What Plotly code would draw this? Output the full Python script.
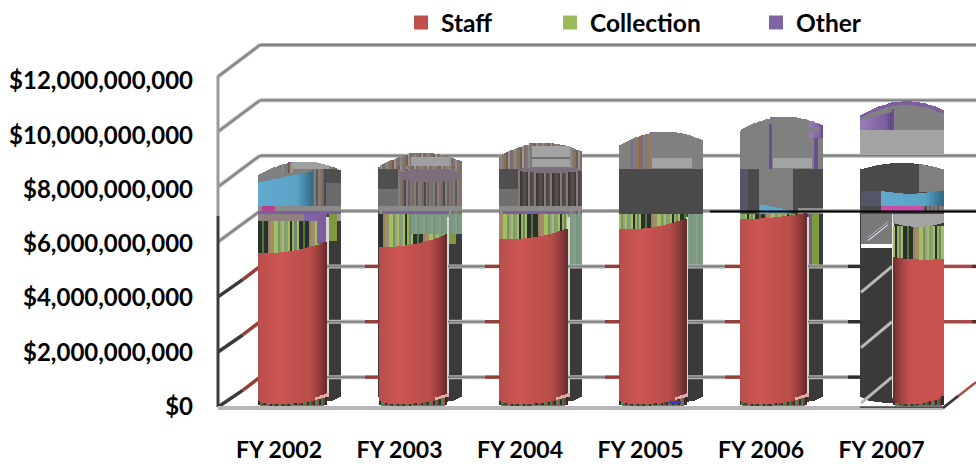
import math
import plotly.graph_objects as go

# ---- data ----
categories = ["FY 2002", "FY 2003", "FY 2004", "FY 2005", "FY 2006", "FY 2007"]
staff = [5.87e9, 6.11e9, 6.37e9, 6.73e9, 7.02e9, 5.47e9]
collection = [1.23e9, 0.99e9, 0.73e9, 0.37e9, 0.08e9, 1.18e9]
other = [1.88e9, 2.20e9, 2.57e9, 2.98e9, 3.53e9, 4.55e9]
tick_values = [0, 2e9, 4e9, 6e9, 8e9, 10e9, 12e9]
tick_labels = ["$0", "$2,000,000,000", "$4,000,000,000", "$6,000,000,000",
               "$8,000,000,000", "$10,000,000,000", "$12,000,000,000"]

# ---- geometry of the (distorted) 3-D frame ----
B = 1e9
SPACING = 120.5
CENTER0 = 299.5
W = 83 / SPACING
PY0, PXB = 406.5, 27.2
PLOT_L, PLOT_B = 200, 432


def X(px):
    return (px - CENTER0) / SPACING


def V(py):
    return (PY0 - py) / PXB * B


def back_y(v):
    return 377 - 27.75 * v / B


def front_y(v):
    return 407 - 27.6 * v / B


def lerp_hex(stops, t):
    t = max(0, min(1, t))
    for (a, ca), (b, cb) in zip(stops, stops[1:]):
        if t <= b:
            u = (t - a) / (b - a) if b > a else 0
            ch = [round(int(ca[j:j + 2], 16) * (1 - u) + int(cb[j:j + 2], 16) * u) for j in (1, 3, 5)]
            return "#%02x%02x%02x" % tuple(ch)
    return stops[-1][1]


RED = [(0, "#b84f4c"), (.3, "#cc5553"), (.75, "#b84d4a"), (.9, "#8f3b39"), (1, "#5e2b29")]
RED2 = [(0, "#6a2e2c"), (.18, "#a54441"), (.35, "#c75250"), (1, "#c9524f")]
BLUE = [(0, "#62aacd"), (.7, "#5aa3c6"), (1, "#2f6a85")]
PURP = [(0, "#9a7dba"), (.8, "#7d5fa0"), (1, "#5f4580")]
STR = ["#2e2e2e", "#2e2e2e", "#4c7a3a", "#2e2e2e", "#2e2e2e", "#8a8a5a", "#a58a6d", "#a58a6d", "#9fc25c", "#9fc25c",
       "#7c8f6a", "#9aa27a", "#a3c060", "#7f9a80", "#8aa070", "#a3c060", "#2e2e2e", "#95b356", "#708a70", "#a3c060"]
GRS = ["#6f6f6f", "#8a7a6a", "#5a5a5a", "#7f7f7f", "#8f6f5f", "#6a6a6a", "#4a4a4a", "#808080", "#7a5a5a", "#777777"]
BRN = ["#8a8a8a", "#7f7a72", "#8a6f5a", "#6f5f50", "#99968f", "#7a6a7a", "#857565"]
SAGE = ["#7d9a88", "#86a08a", "#76957f", "#7f9a80"]
LENS = ["#2e2e2e", "#3f7f3f", "#7a3a3a", "#2e2e2e", "#4c8a4c", "#a05050"]

bx, bw, bbase, bh, bc = [], [], [], [], []
DF = 2 / 83


def panel(i, f0, f1, lo, hi, color):
    n = max(1, round((f1 - f0) / DF))
    d = (f1 - f0) / n
    for k in range(n):
        f = f0 + (k + .5) * d
        a = lo(f) if callable(lo) else lo
        b = hi(f) if callable(hi) else hi
        if b <= a:
            continue
        if isinstance(color, str):
            c = color
        elif isinstance(color, list) and isinstance(color[0], str):
            c = color[(k + 3 * i) % len(color)]
        else:
            c = lerp_hex(color, (f - f0) / (f1 - f0))
        bx.append(i + (f - .5) * W)
        bw.append(d * W)
        bbase.append(a * B)
        bh.append((b - a) * B)
        bc.append(c)


totals = [(s + c + o) / B for s, c, o in zip(staff, collection, other)]
C_TOP = 7.1


def top_arc(i):
    return lambda f: totals[i] + .04 - .42 * (2 * f - 1) ** 2 + .1 * (2 * f - 1)


def clip_top(i, v):
    t = top_arc(i)
    return lambda f: min(v, t(f))


def bottom_arc(f):
    return .12 + .3 * (1 - math.sqrt(max(0, 1 - abs(2 * f - 1) ** 2.4)))


def red_top(i, f0, f1, tilt, sag):
    def fn(f):
        s = 2 * (f - f0) / (f1 - f0) - 1
        return staff[i] / B + tilt * s - sag * (1 - s * s)
    return fn


def red_bottom(f0, f1):
    def fn(f):
        s = 2 * (f - f0) / (f1 - f0) - 1
        return .35 + .1 * s - .24 * math.sqrt(max(0, 1 - s * s))
    return fn


def ellipse(c, h, f0, f1, sign):
    def fn(f):
        s = 2 * (f - f0) / (f1 - f0) - 1
        return c + sign * h * math.sqrt(max(0, 1 - s * s))
    return fn


# dark rear cylinder for every column
for i in range(6):
    panel(i, 0, 1, bottom_arc, C_TOP, "#3a3a3a")

# upper parts of FY 2002
i = 0
panel(i, 0, 1, C_TOP, top_arc(i), "#808080")
panel(i, .66, 1, 8.25, clip_top(i, 8.74), "#4f4f4f")
panel(i, .66, 1, 7.38, 8.25, "#6a6a6a")
panel(i, .66, .82, 7.38, 8.74, GRS)
panel(i, 0, .66, 7.38, lambda f: 8.25 + f / .66 * .43, BLUE)
panel(i, .42, .85, 8.74, clip_top(i, 9.0), "#a0a0a0")
panel(i, .3, .42, 8.6, top_arc(i), BRN)
panel(i, .85, 1, 8.74, top_arc(i), BRN)
panel(i, 0, 1, 7.2, 7.38, "#8a8a8a")
panel(i, .06, .2, 7.2, 7.38, "#b0448f")
panel(i, 0, 1, C_TOP, 7.2, "#7d5fa0")
panel(i, .85, .95, 6.1, C_TOP, "#7f9a3c")
panel(i, 1 - .05, 1, 6.85, C_TOP, "#9a9a9a")

# FY 2003
i = 1
panel(i, 0, 1, C_TOP, top_arc(i), BRN)
panel(i, .4, .85, 8.82, clip_top(i, 9.2), "#a0a0a0")
panel(i, 0, .24, 8.0, 8.77, "#4f4f4f")
panel(i, 0, .24, 7.38, 8.0, "#6f6f6f")
panel(i, .24, 1, 7.38, 8.6, GRS)
panel(i, .24, 1, 8.77, 8.85, BRN)
panel(i, .24, 1.0, ellipse(8.52, .25, .24, 1.0, -1), ellipse(8.52, .25, .24, 1.0, 1), "#7d6e7e")
panel(i, 0, 1, 7.2, 7.38, "#8a8a8a")
panel(i, .05, .85, C_TOP, 7.2, "#7d5fa0")
panel(i, .84, .93, 6.0, 6.4, "#7f9a3c")
panel(i, .4, 1, 6.35, C_TOP, SAGE)

# FY 2004
i = 2
panel(i, 0, 1, C_TOP, top_arc(i), BRN)
panel(i, .4, .85, 8.82, clip_top(i, 9.62), "#a3a3a3")
panel(i, .4, .85, 9.14, 9.2, "#6f6f6f")
panel(i, 0, .24, 8.0, 8.77, "#4f4f4f")
panel(i, 0, .24, 7.38, 8.0, "#6f6f6f")
panel(i, .24, 1, 7.38, 8.7, ["#4a4a4a", "#5f4f45", "#3f3f3f", "#7f7f7f", "#5a4040", "#555555", "#8a7a6a", "#3a3a3a"])
panel(i, .24, 1, ellipse(8.72, .11, .24, 1, -1), ellipse(8.72, .11, .24, 1, 1), "#7d6e7e")
panel(i, 0, 1, 7.2, 7.38, "#8a8a8a")
panel(i, .05, .85, C_TOP, 7.2, "#7d5fa0")
panel(i, .82, 1, 5.17, C_TOP, SAGE)

# FY 2005
i = 3
panel(i, 0, 1, C_TOP, top_arc(i), "#808080")
panel(i, .15, .36, 8.77, top_arc(i), ["#808080", "#857a6f", "#96745a", "#8a6a50", "#7a6a8a"])
panel(i, .4, .87, 8.8, 9.17, "#a3a3a3")
panel(i, 0, 1, C_TOP, 8.77, "#4a4a4a")
panel(i, .82, 1, 5.17, C_TOP, SAGE)

# FY 2006
i = 4
panel(i, 0, 1, C_TOP, top_arc(i), "#808080")
panel(i, .35, .39, 8.77, 10.4, "#6a4f8f")
panel(i, .9, .94, 8.77, 10.3, "#6a4f8f")
panel(i, .84, 1, lambda f: totals[4] - .75, top_arc(i), PURP)
panel(i, .84, .96, 10.1, 10.32, "#808080")
panel(i, .4, .87, 8.8, 9.17, "#a3a3a3")
panel(i, 0, .23, C_TOP, 8.77, "#4a4a4a")
panel(i, 0, .1, C_TOP, 8.77, "#55556a")
panel(i, .23, .65, C_TOP, 8.77, "#7f7f7f")
panel(i, .25, .65, C_TOP, lambda f: 7.45 - (f - .25) * .6, BLUE)
panel(i, .65, 1, C_TOP, 8.77, "#4a4a4a")
panel(i, .7, 1, C_TOP, 7.3, "#8f8f8f")
panel(i, .82, .87, 5.17, C_TOP, "#6f5f8f")
panel(i, .87, .95, 5.17, C_TOP, "#7f9a3c")

# FY 2007
i = 5
panel(i, 0, 1, 8.7, 9.3, "#ffffff")
panel(i, 0, 1, C_TOP, lambda f: 8.98 - .25 * (2 * f - 1) ** 2, "#4a4a4a")
panel(i, .7, 1, 7.9, lambda f: 8.98 - .25 * (2 * f - 1) ** 2, "#7f7f7f")
panel(i, 0, .25, 7.38, 7.95, "#55556a")
panel(i, .25, 1, 7.38, lambda f: 7.82 + abs(f - .6) * .35, BLUE)
panel(i, .25, .75, 7.2, 7.38, "#c84fa8")
panel(i, .75, 1, 7.2, 7.38, GRS)
panel(i, 0, 1, 9.23, 10.18, "#a3a3a3")
panel(i, 0, 1, 10.18, top_arc(i), "#808080")
panel(i, 0, .38, 10.2, lambda f: 10.52 + f * .9, PURP)
panel(i, .38, .4, 10.2, 10.95, "#6a4f8f")
panel(i, 0, 1, lambda f: top_arc(5)(f) - .13, top_arc(i), "#7d5fa0")
panel(i, 0, .39, 6.0, C_TOP, "#7a7a7a")
panel(i, 0, .39, 5.85, 6.0, "#ffffff")
panel(i, .39, .4, 0.3, C_TOP, "#e8e8e8")

# collection stripes and red drums
geom = [(0, .83, RED, .22, .13), (0, .83, RED, .24, .13), (0, .83, RED, .2, .13),
        (0, .81, RED, .2, .12), (0, .81, RED, .12, .05), (.395, 1, RED2, -.03, .05)]
for i, (f0, f1, grad, tilt, sag) in enumerate(geom):
    top = red_top(i, f0, f1, tilt, sag)
    chi = C_TOP if i < 5 else 6.65
    panel(i, f0, f1, lambda f: top(f) - .05, chi, STR)
    if i == 0:
        panel(i, .72, f1, top, C_TOP, "#7d5fa0")
        panel(i, .55, .72, 6.85, C_TOP, "#8064a2")
        panel(i, 0, .55, 6.83, C_TOP, "#8f7f7f")
    if i == 1:
        panel(i, .4, f1, lambda f: max(top(f), 6.35), C_TOP, SAGE)
    if i == 5:
        panel(i, f0, f1, lambda f: 6.62 + .16 * abs(2 * (f - f0) / (f1 - f0) - 1) ** 2, C_TOP, "#a3a3a3")
    if i < 5:
        panel(i, f1, f1 + .02, .42, C_TOP - .1, "#d8d8d8")
    panel(i, f0, f1, 0.05, lambda f: red_bottom(f0, f1)(f) + .02, LENS)
    panel(i, f0, f1, red_bottom(f0, f1), top, grad)
    if i < 5:
        panel(i, f1 - .14, f1 + .02, lambda f: .23 + (f - f1 + .14) * .9, lambda f: .33 + (f - f1 + .14) * 1.1, "#e3a9a7")
panel(3, .6, .74, .08, .2, "#3838c8")

fig = go.Figure()

# series bars, positioned on the drums
xs = [i + ((g[0] + g[1]) / 2 - .5) * W for i, g in enumerate(geom)]
ws = [(g[1] - g[0]) * W * .9 for g in geom]
base_c = staff
base_o = [s + c for s, c in zip(staff, collection)]
fig.add_bar(x=xs, y=staff, width=ws, name="Staff",
            marker=dict(color="#C0504D", line=dict(width=2, color="#C0504D")), legend="legend")
fig.add_bar(x=xs, y=collection, base=base_c, width=ws, name="Collection",
            marker=dict(color="#9BBB59", line=dict(width=2, color="#9BBB59")), legend="legend2")
fig.add_bar(x=list(range(6)), y=other, base=base_o, width=W * .25, name="Other",
            marker=dict(color="#8064A2", line=dict(width=2, color="#8064A2")), legend="legend3")
fig.add_bar(x=bx, y=bh, base=bbase, width=bw, marker=dict(color=bc, line_width=0),
            showlegend=False, hoverinfo="skip")

shapes = []


def seg(x0, y0, x1, y1, color, width, layer="below"):
    shapes.append(dict(type="line", xref="x", yref="y", x0=X(x0), x1=X(x1), y0=V(y0), y1=V(y1),
                       line=dict(color=color, width=width), layer=layer))


def rail(x0, y0, x1, y1, layer="below"):
    seg(x0, y0, x1, y1, "#b4b4b4", 4, layer)
    seg(x0, y0, x1, y1, "#7c7c7c", 1.6, layer)


# back wall + side wall
for v in tick_values:
    by, fy = back_y(v), front_y(v)
    if v >= 6e9:
        rail(218, fy, 260, by)
    else:
        seg(218, fy, 243, by + 13, "#3a3a3a", 3.5)
        seg(243, by + 13, 260, by, "#93403d", 3.5)
    if v >= 6e9:
        rail(260, by, 976, by)
seg(218, 407, 218, 215, "#3c3c3c", 3)
seg(218, 215, 218, 75, "#9a9a9a", 3)

# the 8B rail shows through the open gap of the FY 2007 column
rail(860, back_y(8e9), 944, back_y(8e9), "above")

# lower rails cross the dark drums but stay behind the red ones
right_edges = [327, 448, 568, 688, 808]
left_edges = [380, 500, 620, 740, 860]
for v in (4e9, 2e9, 0):
    by = back_y(v)
    for a, b in zip(right_edges, left_edges):
        end = b - 15 if b < 860 else 848
        rail(a, by, end, by, "above")
        seg(end, by, b, by, "#93403d" if b < 860 else "#2e2e2e", 3.5, "above")
    if v > 0:
        seg(944, by, 972, by, "#a84a47", 3.5, "above")
        seg(972, by, 976, by, "#5e2b29", 3.5, "above")

# FY 2007 diagonals on the dark drum
for v in (4e9, 2e9, 0):
    by = back_y(v)
    seg(861, by + 26, 892, by, "#b8b8b8", 3, "above")
for d in (0, 5, 10):
    seg(868, 238 - d * .3 + d / 2, 888, 222 - d * .3 + d / 2, "#d8d8d8" if d != 5 else "#2e2848", 1.5, "above")

# black line and floor
seg(710, 211, 976, 211, "#000000", 1.8, "above")
seg(218, 408, 943, 408, "#b8b8b8", 4, "above")
seg(860, 407, 943, 407, "#2e2e2e", 1.2, "above")
seg(943, 408, 976, 382, "#a84a47", 2.5, "above")
seg(943, 408, 958, 396, "#3a3a3a", 2.5, "above")

FONT = "Lato"
y_font = dict(family=FONT, size=24, color="#000000", weight=700)
x_font = dict(family=FONT, size=23, color="#000000", weight=700)
leg_font = dict(family=FONT, size=24.5, color="#000000", weight=700)
plot_w = 976 - PLOT_L
fig.update_layout(
    width=976, height=468, autosize=False,
    margin=dict(l=PLOT_L, r=0, t=0, b=468 - PLOT_B, pad=0),
    paper_bgcolor="#ffffff", plot_bgcolor="rgba(0,0,0,0)",
    barmode="overlay", bargap=0, shapes=shapes, font=y_font,
    xaxis=dict(range=[X(PLOT_L), X(976)], tickmode="array",
               tickvals=[i - .17 for i in range(6)], ticktext=categories, ticklabelstandoff=2,
               showgrid=False, zeroline=False, showline=False, ticks="", tickfont=x_font),
    yaxis=dict(range=[V(PLOT_B), V(0)], tickmode="array", tickvals=tick_values, ticktext=tick_labels,
               ticklabelstandoff=6,
               showgrid=False, zeroline=False, showline=False, ticks="", tickfont=y_font),
)
for name, px in (("legend", 401), ("legend2", 550), ("legend3", 756)):
    fig.layout[name] = dict(x=(px - PLOT_L) / plot_w, xanchor="left", y=1 - 22 / PLOT_B, yanchor="middle",
                            bgcolor="rgba(0,0,0,0)", font=leg_font, borderwidth=0)

fig.write_html("out.html", config={"displayModeBar": False},
               post_script="document.body.style.margin='0';document.documentElement.style.overflow='hidden';")
